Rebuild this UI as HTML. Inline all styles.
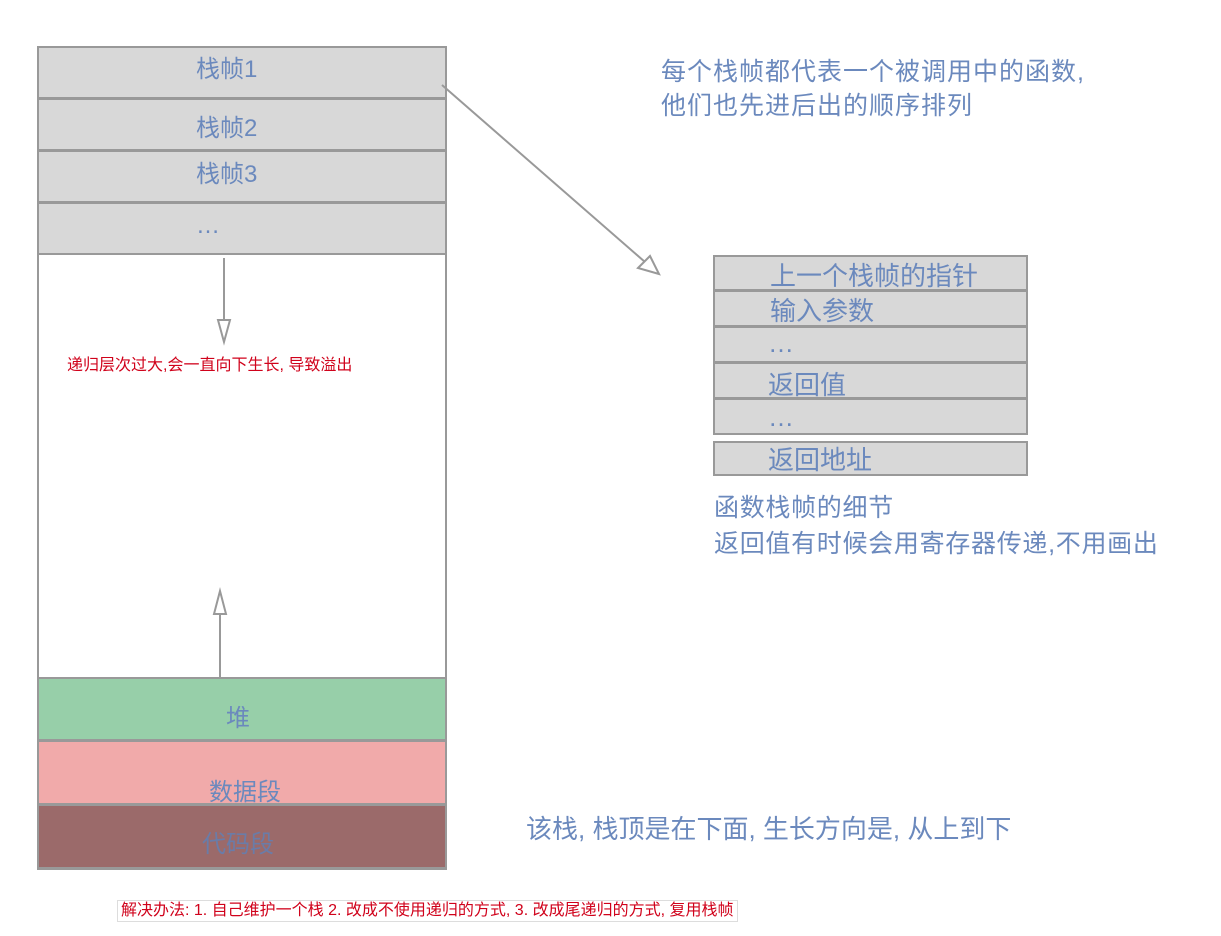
<!DOCTYPE html>
<html><head><meta charset="utf-8"><style>
body{margin:0;width:1221px;height:936px;background:#fff;position:relative;overflow:hidden;font-family:"Liberation Sans","Noto Sans CJK SC",sans-serif;}
.b{position:absolute;box-sizing:border-box;border:2px solid #999;background:#d8d8d8;color:#6b89bd;}
.t{position:absolute;color:#6b89bd;font-size:24px;white-space:nowrap;}
.rt{font-size:26px;}
.r{position:absolute;color:#d0021b;white-space:nowrap;}
</style></head><body>
<div class="b" style="left:37px;top:46px;width:410px;height:824px;background:#fff"></div>
<div class="b" style="left:37px;top:46px;width:410px;height:53px;"></div>
<div class="b" style="left:37px;top:98px;width:410px;height:53px;"></div>
<div class="b" style="left:37px;top:150px;width:410px;height:53px;"></div>
<div class="b" style="left:37px;top:202px;width:410px;height:53px;"></div>
<div class="b" style="left:37px;top:677px;width:410px;height:64px;background:#97cfa9"></div>
<div class="b" style="left:37px;top:740px;width:410px;height:65px;background:#f1aaaa"></div>
<div class="b" style="left:37px;top:804px;width:410px;height:65px;background:#9b6a6a"></div>
<div class="t" style="left:196px;top:49px">栈帧1</div>
<div class="t" style="left:196px;top:108px">栈帧2</div>
<div class="t" style="left:196px;top:154px">栈帧3</div>
<div class="t" style="left:196px;top:212px">…</div>
<div class="t" style="left:226px;top:698px">堆</div>
<div class="t" style="left:209px;top:772px">数据段</div>
<div class="t" style="left:202px;top:824px;color:#6a7ca8">代码段</div>

<div class="b" style="left:713px;top:255px;width:315px;height:36px"></div>
<div class="b" style="left:713px;top:290px;width:315px;height:37px"></div>
<div class="b" style="left:713px;top:326px;width:315px;height:37px"></div>
<div class="b" style="left:713px;top:362px;width:315px;height:37px"></div>
<div class="b" style="left:713px;top:398px;width:315px;height:37px"></div>
<div class="b" style="left:713px;top:441px;width:315px;height:35px"></div>
<div class="t rt" style="left:770px;top:256px">上一个栈帧的指针</div>
<div class="t rt" style="left:770px;top:291px">输入参数</div>
<div class="t rt" style="left:768px;top:328px">…</div>
<div class="t rt" style="left:768px;top:365px">返回值</div>
<div class="t rt" style="left:768px;top:402px">…</div>
<div class="t rt" style="left:768px;top:440px">返回地址</div>

<div class="t" style="left:661px;top:55px;line-height:34px;font-size:25px;letter-spacing:1px">每个栈帧都代表一个被调用中的函数,<br>他们也先进后出的顺序排列</div>
<div class="t" style="left:714px;top:490px;line-height:36px;font-size:25px;letter-spacing:0.7px">函数栈帧的细节<br>返回值有时候会用寄存器传递,不用画出</div>
<div class="t" style="left:526px;top:809px;font-size:26px">该栈, 栈顶是在下面, 生长方向是, 从上到下</div>
<div class="r" style="left:67px;top:351px;font-size:16px">递归层次过大,会一直向下生长, 导致溢出</div>
<div class="r" style="left:117px;top:900px;font-size:16px;border:1px solid #ddd;padding:0 3px;line-height:20px">解决办法: 1. 自己维护一个栈 2. 改成不使用递归的方式, 3. 改成尾递归的方式, 复用栈帧</div>

<svg width="1221" height="936" style="position:absolute;left:0;top:0">
<g stroke="#999" stroke-width="2" fill="#fff">
<line x1="224" y1="258" x2="224" y2="322"/>
<polygon points="218,320 230,320 224,342"/>
<line x1="220" y1="677" x2="220" y2="612"/>
<polygon points="214,614 226,614 220,591"/>
<line x1="442" y1="85" x2="645" y2="262"/>
<polygon points="638,268 650,256 659,274"/>
</g>
</svg>
</body></html>
